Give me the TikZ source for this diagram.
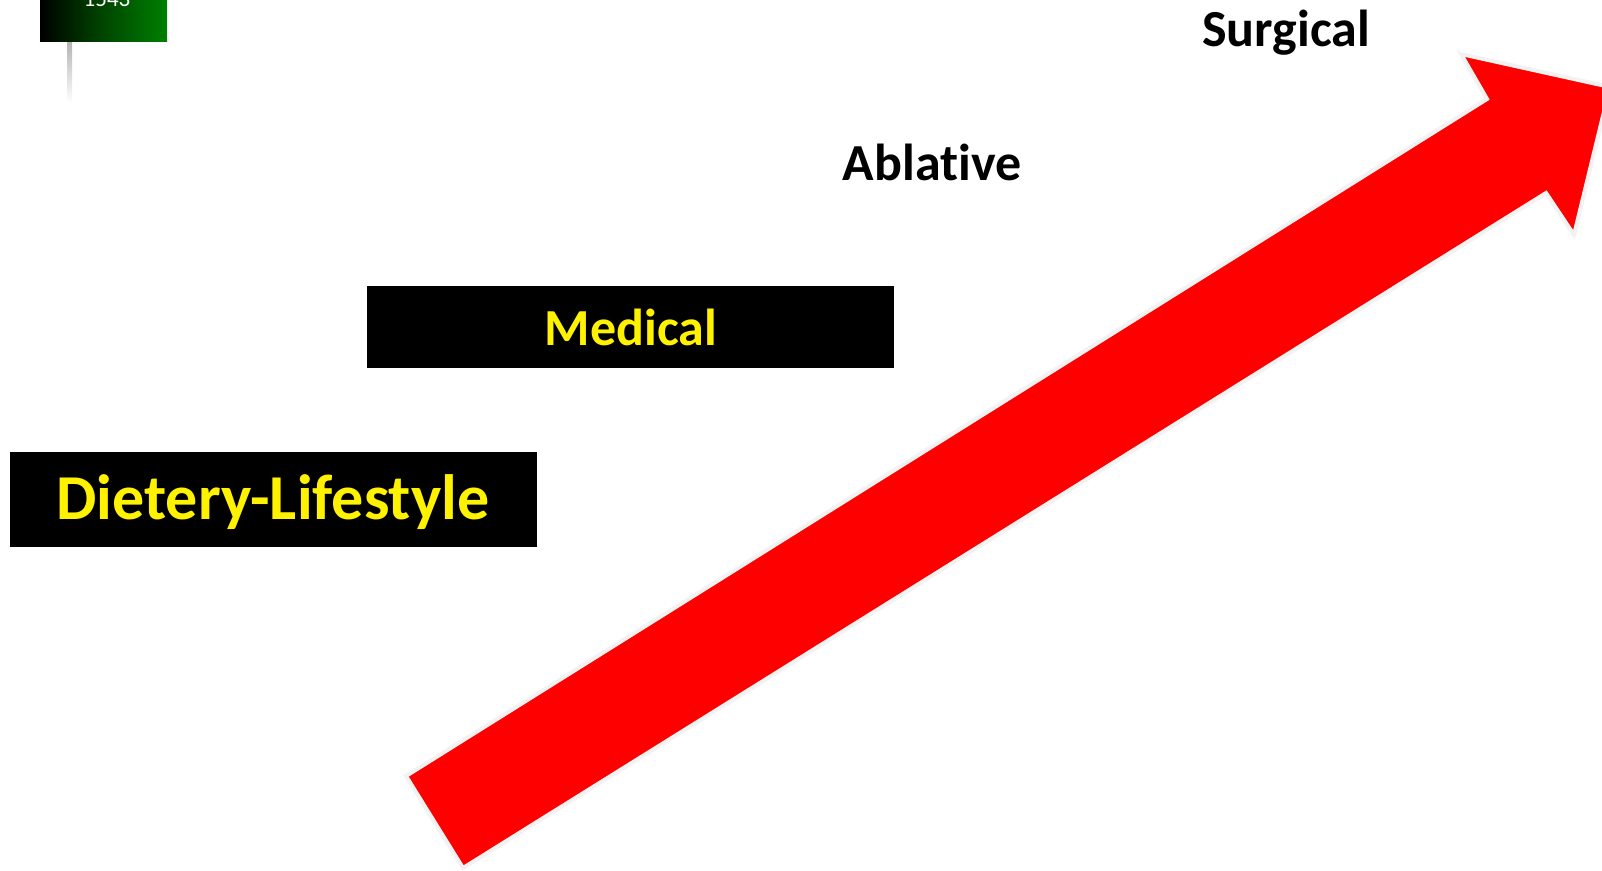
\documentclass[tikz,border=0pt]{standalone}
\usepackage{fontspec}
\setmainfont[RawFeature=-liga]{Carlito}
\usetikzlibrary{shapes,backgrounds}

\definecolor{pinred}{RGB}{255,0,0}
\definecolor{pingreen}{RGB}{0,128,0}
\definecolor{rimgray}{RGB}{242,242,242}

\begin{document}
\begin{tikzpicture}[x=1pt,y=-1pt,semithick]
        \tikzstyle{blackbox}=[fill=black, text=yellow, font=\bfseries, inner sep=0pt, anchor=north west]
        \tikzstyle{steplabel}=[text=black, font=\bfseries\fontsize{52}{60}\selectfont, anchor=base]
        \useasboundingbox (0,0) rectangle (1602,870);

        % flag in the corner
        \shade[top color=black!30, bottom color=white] (67,41) rectangle (72,103);
        \shade[left color=black, right color=pingreen, middle color=pingreen!55!black] (40,-20) rectangle (167,41);
        \node[text=white, font=\fontsize{23}{26}\selectfont, anchor=base] (year) at (107,6) {1543};

        % the big rising arrow
        \draw[fill=pinred, draw=rimgray, line width=4pt, line join=miter]
          (406,776) -- (1487,99) -- (1461,54) -- (1610,87) -- (1574,235) -- (1546,193) -- (463,868) -- cycle;

        % the steps
        \node[blackbox, minimum width=527pt, minimum height=95pt] (diet) at (10,452) {};
        \node[text=yellow, font=\bfseries\fontsize{64}{70}\selectfont, anchor=base] (dietlbl) at (273,519) {Dietery-Lifestyle};
        \node[blackbox, minimum width=527pt, minimum height=82pt] (med) at (367,286) {};
        \node[text=yellow, font=\bfseries\fontsize{52}{60}\selectfont, anchor=base] (medlbl) at (631,345) {Medical};
        \node[steplabel] (abl) at (932,180) {Ablative};
        \node[steplabel] (surg) at (1286,46) {Surgical};

      \end{tikzpicture}
\end{document}
